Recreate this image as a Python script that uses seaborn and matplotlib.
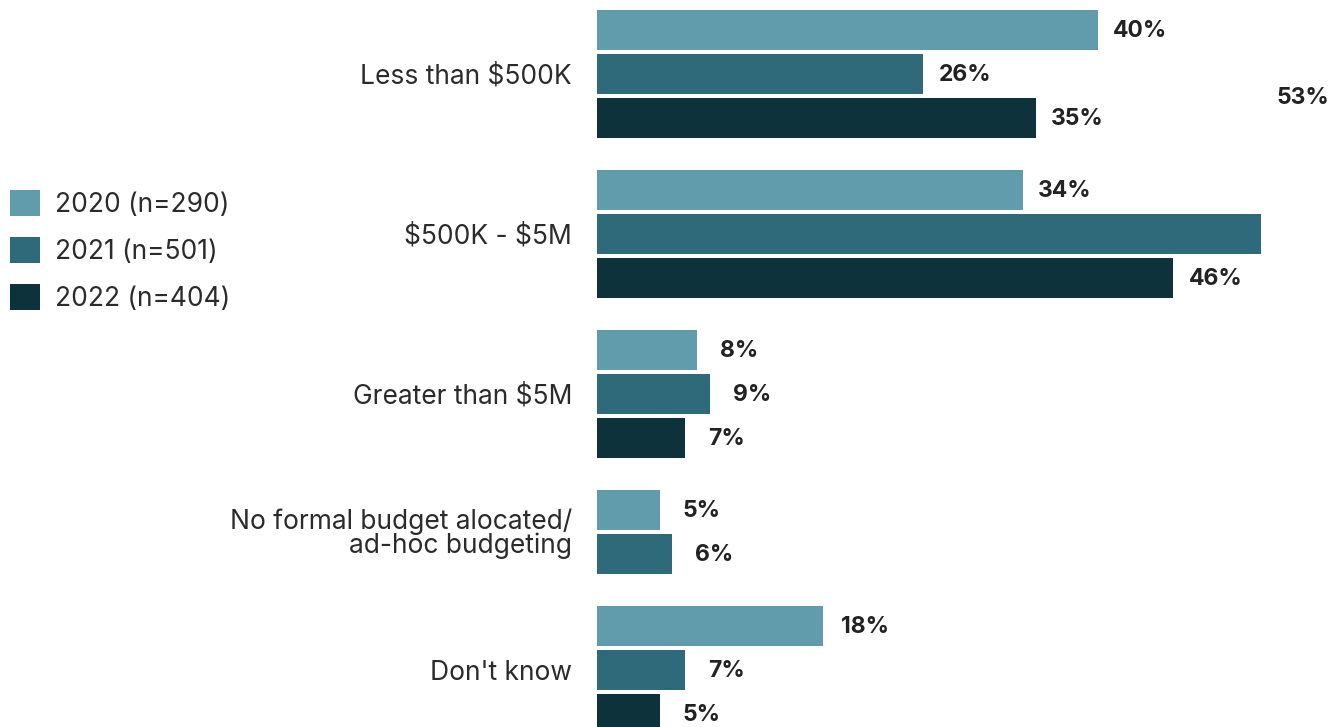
import numpy as np
import pandas as pd
import seaborn as sns
import matplotlib
matplotlib.use("Agg")
import matplotlib.pyplot as plt

# Survey answers: annual budget bands
categories = [
    "Less than $500K",
    "$500K - $5M",
    "Greater than $5M",
    "No formal budget alocated/\nad-hoc budgeting",
    "Don't know",
]
years = ["2020 (n=290)", "2021 (n=501)", "2022 (n=404)"]
pct_2020 = [40, 34, 8, 5, 18]
pct_2021 = [26, 53, 9, 6, 7]
pct_2022 = [35, 46, 7, None, 5]
colors = ["#609cac", "#2e6a79", "#0e323c"]

TEXT = "#2b2b2b"
W, H, DPI = 1342, 727, 100

# Long table, one row per bar; missing answers get no bar
rows = []
for ci, cat in enumerate(categories):
    for yr, series in zip(years, [pct_2020, pct_2021, pct_2022]):
        v = series[ci]
        if v is not None:
            rows.append({"category": cat, "year": yr, "pct": v})
df = pd.DataFrame(rows)

# Stack bars one slot apart, with an extra gap between category groups
GROUP_GAP = 28 / 44
pos, slot, prev = [], 0.0, None
for cat in df["category"]:
    if prev is not None and cat != prev:
        slot += GROUP_GAP
    pos.append(slot)
    slot += 1
    prev = cat
df["pos"] = pos

sns.set_theme(style="white")
plt.rcParams["font.family"] = ["Inter", "DejaVu Sans"]

fig = plt.figure(figsize=(W / DPI, H / DPI), dpi=DPI)
left_px = 597
ax = fig.add_axes([left_px / W, 0, (W - left_px) / W, 1])

sns.barplot(
    data=df, x="pct", y="pos", hue="year", hue_order=years,
    palette=colors, orient="h", native_scale=True, dodge=False,
    width=40 / 44, saturation=1, errorbar=None, legend=True,
    linewidth=0, ax=ax,
)

px_per_pct = 12.53
px_per_slot = 44
first_center_px = 30
ax.set_xlim(0, (W - left_px) / px_per_pct)
ax.set_ylim((H - first_center_px) / px_per_slot, -first_center_px / px_per_slot)

# Category labels at group centres
centers = df.groupby("category", sort=False)["pos"].mean()
ax.set_yticks(centers.values)
ax.set_yticklabels(centers.index, fontsize=19, color=TEXT, linespacing=0.9)
for lbl in ax.get_yticklabels():
    lbl.set_parse_math(False)
ax.tick_params(axis="y", length=0, pad=18)
ax.set_xticks([])
ax.set_xlabel("")
ax.set_ylabel("")
for s in ax.spines.values():
    s.set_visible(False)

# Value labels, centred a fixed distance past each bar end
off_pt = 42 * 72 / DPI
for _, r in df.iterrows():
    dy = -1
    if r["category"] == "$500K - $5M" and r["year"] == years[1]:
        dy = 136 * 72 / DPI
    ax.annotate(f"{r['pct']:.0f}%", xy=(r["pct"], r["pos"]),
                xytext=(off_pt, dy), textcoords="offset points",
                ha="center", va="center", fontsize=16.5, fontweight="bold",
                color="#222222", annotation_clip=False)

# Legend on the left side of the figure
handles, labels = ax.get_legend_handles_labels()
ax.legend_.remove()
fig.legend(handles, labels, loc="upper left",
           bbox_to_anchor=(10 / W, 1 - 190 / H), bbox_transform=fig.transFigure,
           frameon=False, fontsize=19, labelcolor=TEXT,
           handlelength=1.14, handleheight=1.14, handletextpad=0.55,
           labelspacing=0.73, borderaxespad=0, borderpad=0)

fig.savefig("out.png", dpi=DPI)
